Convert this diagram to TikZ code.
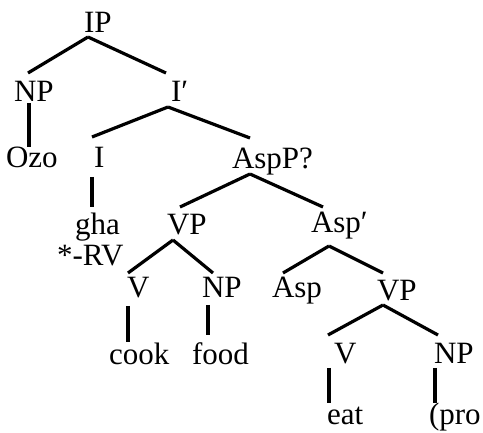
\documentclass[tikz,border=0pt]{standalone}
\usepackage{fontspec}
\setmainfont{Liberation Serif}
\usetikzlibrary{calc}
\tikzset{
  lab/.style={inner sep=0pt, outer sep=0pt, anchor=base west, font=\fontsize{31}{36}\selectfont},
  branch/.style={line width=3.2pt, line cap=butt}
}
\begin{document}
\begin{tikzpicture}[x=1pt,y=-1pt]
\useasboundingbox (0,0) rectangle (483,433);
% labels (left edge, baseline)
\node[lab] (IP)    at (84,33)   {IP};
\node[lab] (NPa)   at (14,102)  {NP};
\node[lab] (Ibar)  at (171,102) {I′};
\node[lab] (Ozo)   at (6,168)   {Ozo};
\node[lab] (I)     at (94,168)  {I};
\node[lab] (AspP)  at (232,169) {AspP?};
\node[lab] (gha)   at (75,235)  {gha};
\node[lab] (RV)    at (57,266)  {*-RV};
\node[lab] (VPa)   at (167,235) {VP};
\node[lab] (Aspbar) at (311,233) {Asp′};
\node[lab] (Va)    at (127,298) {V};
\node[lab] (NPb)   at (202,298) {NP};
\node[lab] (Asp)   at (272,298) {Asp};
\node[lab] (VPb)   at (377,301) {VP};
\node[lab] (Vb)    at (334,364) {V};
\node[lab] (NPc)   at (434,364) {NP};
\node[lab] (cook)  at (109,365) {cook};
\node[lab] (food)  at (192,365) {food};
\node[lab] (eat)   at (327,425) {eat};
\node[lab] (pro)   at (429,425) {(pro};
% branches
\draw[branch] ($(IP.base west)+(4,4)$) -- ($(NPa.base west)+(14,-29)$);
\draw[branch] ($(IP.base west)+(4,4)$) -- ($(Ibar.base west)+(-5,-29)$);
\draw[branch] ($(NPa.base west)+(15,1)$) -- ($(Ozo.base west)+(23,-21)$);
\draw[branch] ($(Ibar.base west)+(-3,5)$) -- ($(I.base west)+(-2,-31)$);
\draw[branch] ($(Ibar.base west)+(-3,5)$) -- ($(AspP.base west)+(18,-31)$);
\draw[branch] ($(I.base west)+(-2,9)$) -- ($(gha.base west)+(17,-28)$);
\draw[branch] ($(AspP.base west)+(18,5)$) -- ($(VPa.base west)+(13,-28)$);
\draw[branch] ($(AspP.base west)+(18,5)$) -- ($(Aspbar.base west)+(12,-26)$);
\draw[branch] ($(VPa.base west)+(6,5)$) -- ($(Va.base west)+(1,-25)$);
\draw[branch] ($(VPa.base west)+(6,5)$) -- ($(NPb.base west)+(11,-25)$);
\draw[branch] ($(Va.base west)+(1,8)$) -- ($(cook.base west)+(19,-23)$);
\draw[branch] ($(NPb.base west)+(6,7)$) -- ($(food.base west)+(16,-30)$);
\draw[branch] ($(Aspbar.base west)+(18,13)$) -- ($(Asp.base west)+(11,-25)$);
\draw[branch] ($(Aspbar.base west)+(18,13)$) -- ($(VPb.base west)+(6,-28)$);
\draw[branch] ($(VPb.base west)+(6,4)$) -- ($(Vb.base west)+(-6,-29)$);
\draw[branch] ($(VPb.base west)+(6,4)$) -- ($(NPc.base west)+(4,-29)$);
\draw[branch] ($(Vb.base west)+(-5,4)$) -- ($(eat.base west)+(2,-22)$);
\draw[branch] ($(NPc.base west)+(1,4)$) -- ($(pro.base west)+(6,-22)$);
\end{tikzpicture}
\end{document}
